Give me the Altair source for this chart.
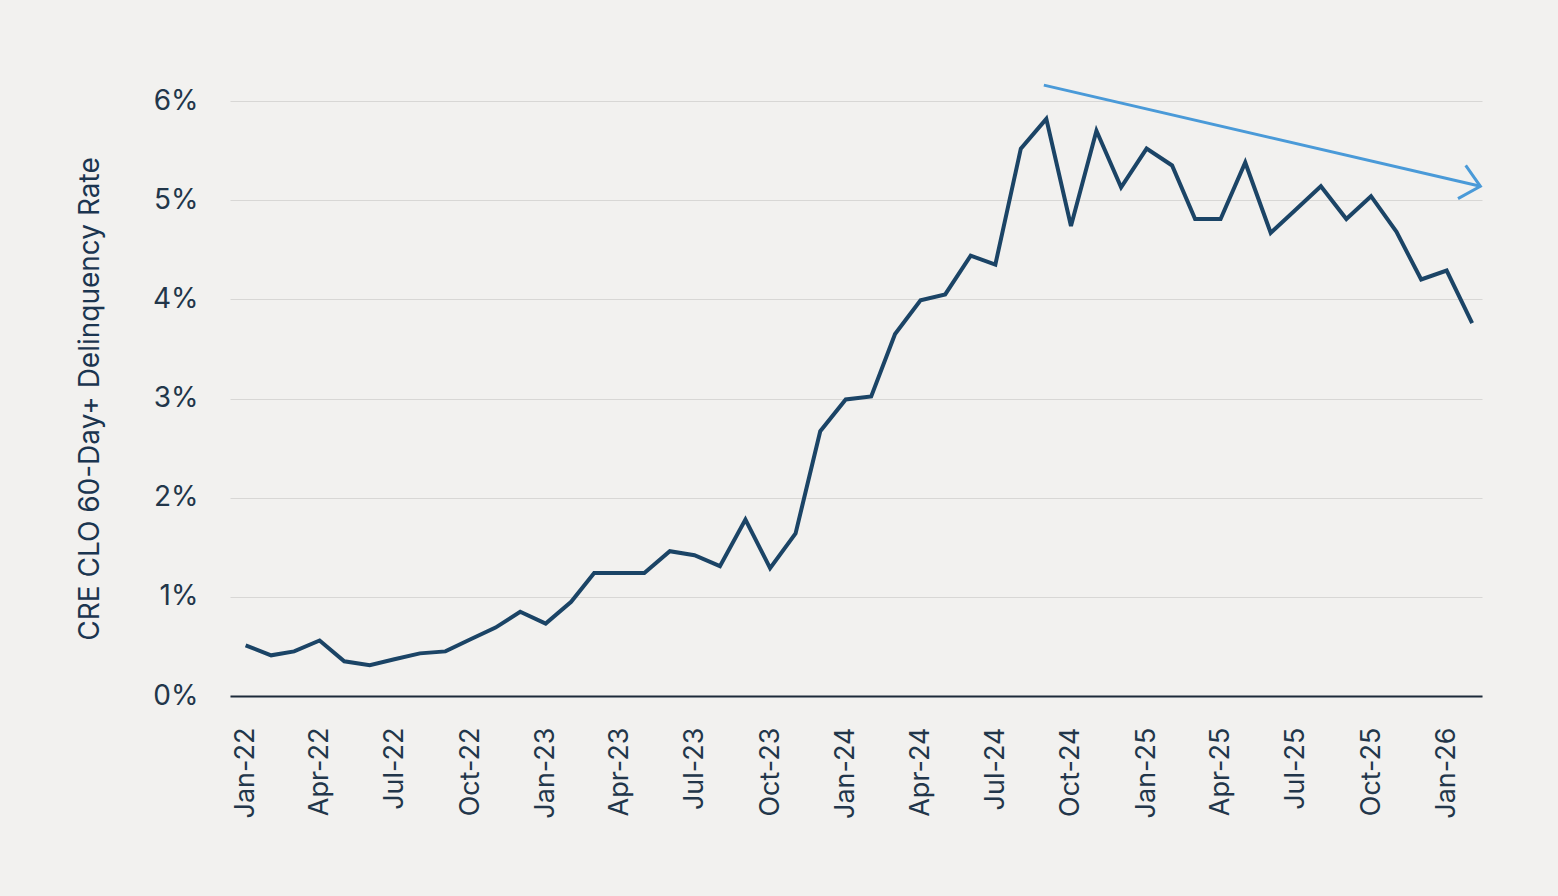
import altair as alt
import pandas as pd
import jinja2

# Monthly CRE CLO 60-Day+ delinquency rate (%), Jan-2022 .. Feb-2026
months = pd.date_range("2022-01-01", "2026-02-01", freq="MS").strftime("%Y-%m-%dT00:00:00").tolist()
rates = [
    0.51, 0.41, 0.45, 0.56, 0.35, 0.31, 0.37, 0.43, 0.45, 0.57, 0.69, 0.85,
    0.73, 0.95, 1.24, 1.24, 1.24, 1.46, 1.42, 1.31, 1.78, 1.29, 1.64, 2.67,
    2.99, 3.02, 3.65, 3.99, 4.05, 4.44, 4.35, 5.52, 5.82, 4.74, 5.70, 5.13,
    5.52, 5.35, 4.81, 4.81, 5.38, 4.67, 4.90, 5.14, 4.81, 5.04, 4.68, 4.20,
    4.29, 3.76,
]

# Trend arrow annotation (start, end)
arrow_dates = ["2024-08-29T00:00:00", "2026-02-11T00:00:00"]
arrow_values = [6.16, 5.14]

tick_dates = [alt.DateTime(year=2022 + i // 4, month=1 + 3 * (i % 4), date=1) for i in range(17)]

df = pd.DataFrame({"date": months, "rate": rates})
arrow_df = pd.DataFrame({"date": arrow_dates, "rate": arrow_values})
head_df = arrow_df.iloc[[1]]

BG = "#f2f1ef"
LINE = "#1b4466"
ARROW = "#4a9ad8"
TEXT = "#22364a"
FONT = "Inter"

x_scale = alt.Scale(domain=[alt.DateTime(year=2021, month=12, date=13),
                            alt.DateTime(year=2026, month=2, date=13)])
y_scale = alt.Scale(domain=[0, 6], nice=False)

x_enc = alt.X(
    "date:T", scale=x_scale,
    axis=alt.Axis(
        values=tick_dates, format="%b-%y", labelAngle=-90, labelAlign="right",
        labelBaseline="middle", labelPadding=31, ticks=False, grid=False,
        domain=True, domainColor="#1d2b3a", domainWidth=2, title=None,
        labelFontSize=27, labelColor=TEXT, labelFont=FONT, labelOverlap=False,
    ),
)
y_enc = alt.Y(
    "rate:Q", scale=y_scale,
    axis=alt.Axis(
        values=[0, 1, 2, 3, 4, 5, 6], labelExpr="datum.value + '%'",
        ticks=False, domain=False, grid=True, gridColor="#d8d7d5", gridWidth=1,
        labelPadding=32, labelFontSize=28, labelColor=TEXT, labelFont=FONT,
        title="CRE CLO 60-Day+ Delinquency Rate", titleFontSize=28,
        titleFont=FONT, titleFontWeight="normal", titleColor="#1b3550",
        titlePadding=48,
    ),
)

line = alt.Chart(df).mark_line(color=LINE, strokeWidth=4, strokeJoin="miter").encode(
    x=x_enc, y=y_enc
)

arrow = alt.Chart(arrow_df).mark_line(color=ARROW, strokeWidth=3, clip=False).encode(
    x=alt.X("date:T", scale=x_scale), y=alt.Y("rate:Q", scale=y_scale)
)

head = alt.Chart(head_df).mark_point(
    shape="M -1 -0.9 L 0 0 L -1 0.9", filled=False, color=ARROW, strokeWidth=3,
    size=1444, angle=13, opacity=1, clip=False,
).encode(x=alt.X("date:T", scale=x_scale), y=alt.Y("rate:Q", scale=y_scale))

chart = alt.layer(line, arrow, head).properties(
    width=1252, height=595,
    autosize=alt.AutoSizeParams(type="none"),
    padding={"left": 222, "top": 93, "right": 68, "bottom": 192},
    background=BG,
).configure_view(stroke=None)

PAGE = jinja2.Template("""<!DOCTYPE html>
<html>
<head>
  <meta charset="utf-8">
  <style>body { background-color: """ + BG + """; }</style>
  <script type="text/javascript" src="{{ base_url }}/vega@{{ vega_version }}"></script>
  <script type="text/javascript" src="{{ base_url }}/vega-lite@{{ vegalite_version }}"></script>
  <script type="text/javascript" src="{{ base_url }}/vega-embed@{{ vegaembed_version }}"></script>
</head>
<body>
  <div id="{{ output_div }}"></div>
  <script>
    (function(vegaEmbed) {
      var spec = {{ spec }};
      var embedOpt = {{ embed_options }};
      vegaEmbed("#{{ output_div }}", spec, embedOpt).catch(function(err) {
        document.getElementById("{{ output_div }}").innerHTML = String(err);
      });
    })(vegaEmbed);
  </script>
</body>
</html>
""")

try:
    chart.save("out.html", embed_options={"renderer": "svg", "actions": False}, template=PAGE)
except Exception:
    chart.save("out.html", embed_options={"renderer": "svg", "actions": False})
